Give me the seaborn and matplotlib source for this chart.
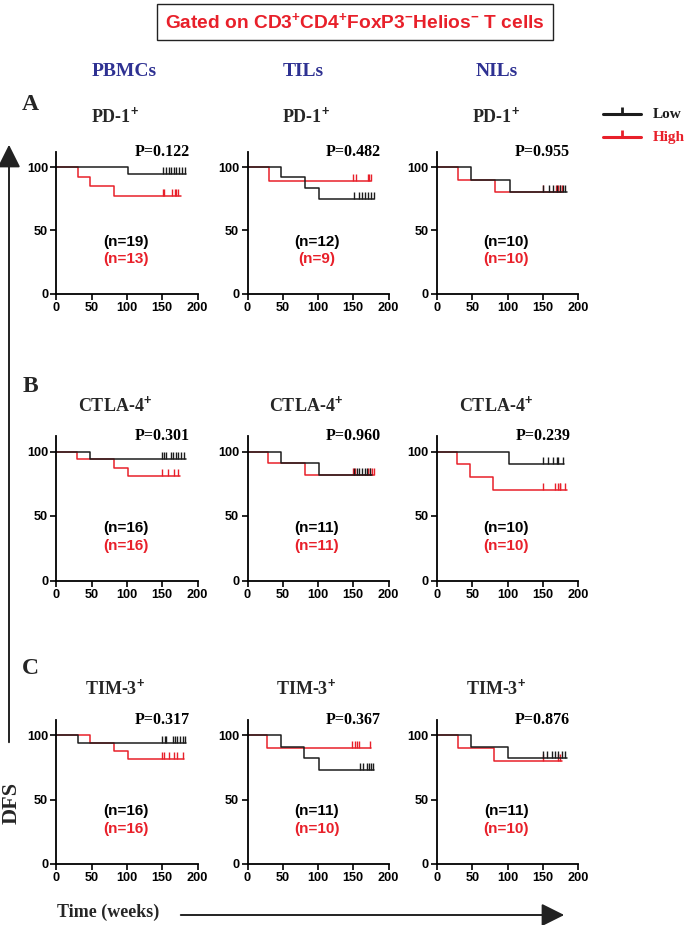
#!/usr/bin/env python3
import numpy as np
import matplotlib
matplotlib.use('Agg')
import matplotlib.pyplot as plt
from matplotlib.lines import Line2D
from matplotlib.patches import FancyArrowPatch
import seaborn as sns

# --- values -----------------------------------------------------------------
# rows: marker, columns: cell source
markers = ['PD-1', 'CTLA-4', 'TIM-3']
sources = ['PBMCs', 'TILs', 'NILs']
row_letters = ['A', 'B', 'C']

p_values = [['0.122', '0.482', '0.955'],
            ['0.301', '0.960', '0.239'],
            ['0.317', '0.367', '0.876']]
n_low = [[19, 12, 10], [16, 11, 10], [16, 11, 11]]
n_high = [[13, 9, 10], [16, 11, 10], [16, 10, 10]]

# step curves: times (weeks) where DFS changes, last one = end of follow-up
low_times = [[[0, 102, 184], [0, 47, 81, 101, 180], [0, 48, 103, 185]],
             [[0, 47, 184], [0, 47, 101, 177], [0, 102, 180]],
             [[0, 30, 184], [0, 47, 80, 101, 180], [0, 48, 101, 184]]]
low_dfs = [[[100, 94.7, 94.7], [100, 91.7, 83.3, 75, 75], [100, 90, 80, 80]],
           [[100, 93.8, 93.8], [100, 90.9, 81.8, 81.8], [100, 90, 90]],
           [[100, 93.8, 93.8], [100, 90.9, 81.8, 72.7, 72.7], [100, 90.9, 81.8, 81.8]]]
low_censor = [[[151, 155, 159, 163, 166, 170, 174, 178, 182],
               [151, 158, 162, 167, 171, 175, 179],
               [150, 159, 165, 170, 174, 179, 181]],
              [[149, 153, 155, 162, 165, 169, 173, 177, 181],
               [151, 155, 158, 163, 166, 169, 174],
               [150, 158, 164, 170, 172, 179]],
              [[150, 154, 156, 165, 168, 171, 175, 179, 182],
               [159, 164, 169, 172, 175, 178],
               [150, 156, 163, 167, 172, 177, 181]]]

high_times = [[[0, 30, 48, 81, 176], [0, 30, 175], [0, 30, 82, 178]],
              [[0, 29, 81, 101, 175], [0, 29, 81, 180], [0, 29, 47, 80, 184]],
              [[0, 48, 81, 102, 181], [0, 28, 175], [0, 30, 81, 177]]]
high_dfs = [[[100, 92.3, 84.6, 76.9, 76.9], [100, 88.9, 88.9], [100, 90, 80, 80]],
            [[100, 93.8, 87.5, 81.3, 81.3], [100, 90.9, 81.8, 81.8], [100, 90, 80, 70, 70]],
            [[100, 93.8, 87.5, 81.3, 81.3], [100, 90, 90], [100, 90, 80, 80]]]
high_censor = [[[151, 153, 164, 168, 170, 173],
                [150, 154, 171, 173, 175],
                [151, 169, 172, 175, 178]],
               [[150, 158, 166, 173],
                [150, 153, 171, 174, 177, 179],
                [150, 167, 171, 174, 175, 181]],
               [[149, 152, 159, 166, 171, 180],
                [148, 152, 155, 158, 174],
                [151, 172, 175]]]

BLACK = '#1c1c1c'
RED = '#e8202a'
BLUE = '#2e3192'
SERIF = ['Liberation Serif', 'DejaVu Serif']

sns.set_theme(style='ticks')
plt.rcParams['font.family'] = ['Liberation Sans', 'DejaVu Sans']
plt.rcParams['font.weight'] = 'bold'
plt.rcParams['mathtext.fontset'] = 'custom'
plt.rcParams['mathtext.rm'] = 'Liberation Sans:bold'
plt.rcParams['mathtext.it'] = 'Liberation Sans:bold'
plt.rcParams['mathtext.bf'] = 'Liberation Sans:bold'

W, H = 685, 925
fig = plt.figure(figsize=(W / 100, H / 100), dpi=100)


def fx(px):
    return px / W


def fy(py):
    return 1 - py / H


def draw_curve(ax, t, s, cens, color):
    sns.lineplot(x=t, y=s, drawstyle='steps-post', color=color, lw=1.1,
                 estimator=None, ax=ax)
    lvl = [s[np.searchsorted(t, c, side='right') - 1] for c in cens]
    ax.plot(cens, lvl, ls='none', marker=2, ms=5, mew=1.0, color=color)


col_left = [56.5, 247.5, 437]
row_zero = [293.5, 580.5, 864]
row_scale = [1.265, 1.29, 1.29]
row_title_y = [116, 405, 688]
row_letter_y = [104, 387, 669]

for r in range(3):
    for c in range(3):
        h = 112 * row_scale[r]
        ax = fig.add_axes([fx(col_left[c]), fy(row_zero[r]), 141 / W, h / H])
        draw_curve(ax, high_times[r][c], high_dfs[r][c], high_censor[r][c], RED)
        draw_curve(ax, low_times[r][c], low_dfs[r][c], low_censor[r][c], BLACK)

        ax.set_xlim(0, 200)
        ax.set_ylim(0, 112)
        ax.set_xticks([0, 50, 100, 150, 200])
        ax.set_yticks([0, 50, 100])
        ax.set(xlabel=None, ylabel=None)
        sns.despine(ax=ax)
        for sp in ('left', 'bottom'):
            ax.spines[sp].set_linewidth(1.3)
            ax.spines[sp].set_color('black')
        ax.tick_params(direction='out', length=4, width=1.2, labelsize=9.2,
                       pad=2, colors='black')

        ax.text(150, 112, f'P={p_values[r][c]}', ha='center', va='center',
                family=SERIF, fontsize=11.5, fontweight='bold', color='black')
        ax.text(98, 41, f'(n={n_low[r][c]})', ha='center', va='center',
                fontsize=11, fontweight='bold', color='black')
        ax.text(98, 27, f'(n={n_high[r][c]})', ha='center', va='center',
                fontsize=11, fontweight='bold', color=RED)

        fig.text(fx(col_left[c] + 59), fy(row_title_y[r]), markers[r] + r'$^{+}$',
                 ha='center', va='center', family=SERIF, fontsize=13,
                 fontweight='bold')

    fig.text(fx(30), fy(row_letter_y[r]), row_letters[r], ha='center', va='center',
             family=SERIF, fontsize=17, fontweight='bold')

# column headers
for c, x in enumerate([124, 303, 497]):
    fig.text(fx(x), fy(72), sources[c], ha='center', va='center', family=SERIF,
             fontsize=14, fontweight='bold', color=BLUE)

# boxed title
fig.text(fx(355), fy(22),
         r'Gated on CD3$^{+}$CD4$^{+}$FoxP3$^{-}$Helios$^{-}$ T cells',
         ha='center', va='center', fontsize=13.8, fontweight='bold', color=RED,
         bbox=dict(boxstyle='square,pad=0.42', fc='white', ec='#222222', lw=1.0))

# legend
for y, lab, col in [(114, 'Low', BLACK), (137, 'High', RED)]:
    fig.add_artist(Line2D([fx(603), fx(622), fx(641)], [fy(y)] * 3, color=col, lw=2.2,
                          marker=2, markevery=[1], ms=5, mew=2.0,
                          transform=fig.transFigure))
    fig.text(fx(653), fy(y), lab, ha='left', va='center', family=SERIF,
             fontsize=11, fontweight='bold', color=col)

# DFS axis arrow and label
fig.add_artist(FancyArrowPatch((fx(9), fy(745)), (fx(9), fy(142)),
                               transform=fig.transFigure,
                               arrowstyle='-|>,head_length=0.7,head_width=0.35',
                               mutation_scale=20, lw=1.4, color='#222222'))
fig.text(fx(12), fy(803), 'DFS', rotation=90, ha='center', va='center',
         family=SERIF, fontsize=16, fontweight='bold')

# time axis arrow and label
fig.add_artist(FancyArrowPatch((fx(178), fy(915)), (fx(567), fy(915)),
                               transform=fig.transFigure,
                               arrowstyle='-|>,head_length=0.7,head_width=0.35',
                               mutation_scale=20, lw=1.4, color='#222222'))
fig.text(fx(108), fy(912), 'Time (weeks)', ha='center', va='center',
         family=SERIF, fontsize=13, fontweight='bold')

fig.savefig('out.png', dpi=100)
